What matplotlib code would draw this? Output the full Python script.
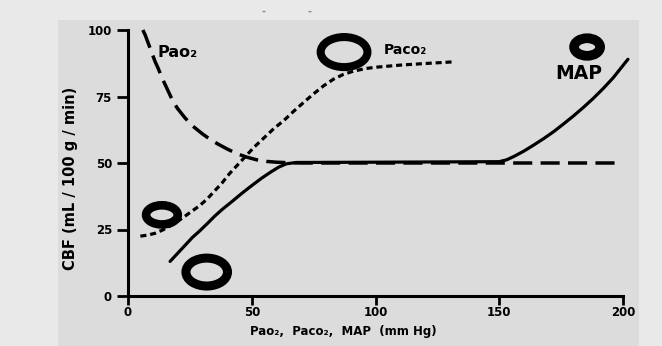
import matplotlib
matplotlib.use("Agg")
import matplotlib.pyplot as plt
from matplotlib.patches import Ellipse, Rectangle

# curves (x in mm Hg, y = CBF)
pao2_x = [6, 7, 8, 9, 10, 11, 12, 14, 16, 18, 20, 23, 26, 30, 33, 36, 40, 44, 48,
          52, 56, 60, 65, 70, 100, 150, 197]
pao2_y = [100, 98, 95.5, 93, 90.5, 88, 86, 81.5, 77.5, 73.5, 70.5, 67, 64, 61, 59,
          57.3, 55.3, 53.5, 52.2, 51.2, 50.6, 50.3, 50.1, 50, 50, 50, 50]

paco2_x = [5, 8, 11, 14, 17, 20, 23, 26, 29, 32, 35, 38, 41, 44, 47, 51, 55, 59, 63,
           67, 71, 75, 79, 83, 87, 91, 96, 100, 110, 120, 131]
paco2_y = [22.5, 22.9, 23.6, 24.8, 26.3, 28, 30, 32, 34, 36.5, 39.5, 42.5, 46, 49, 52,
           56, 59.5, 63, 66, 69.5, 72.8, 76, 79, 81.5, 83.3, 84.5, 85.5, 86, 86.8, 87.4, 88]

map_x = [17, 20, 23, 26, 29, 32, 35, 38, 42, 46, 50, 54, 58, 61, 64, 68, 100, 150,
         153, 156, 160, 164, 168, 172, 176, 180, 184, 188, 192, 196, 199, 202]
map_y = [13, 16, 19, 22, 24.5, 27.2, 30, 32.5, 35.5, 38.6, 41.5, 44.3, 46.8, 48.5,
         49.7, 50.2, 50.3, 50.5, 51.2, 52.5, 54.5, 56.8, 59.2, 61.8, 64.7, 67.7, 70.9,
         74.3, 78, 82, 85.5, 89]

x_ticks = [0, 50, 100, 150, 200]
y_ticks = [0, 25, 50, 75, 100]

# ring markers: centre x, centre y, width, height (data units), ring thickness (pt)
ring_x = [87.3, 185.5, 13.7, 31.8]
ring_y = [91.7, 93.6, 30.5, 9.0]
ring_w = [18.9, 10.5, 12.8, 16.8]
ring_h = [11.3, 6.6, 7.2, 10.5]
ring_lw = [5.8, 7.0, 6.2, 6.5]

labels = ["Pao\u2082", "Paco\u2082", "MAP"]
label_x = [12.1, 103.4, 172.6]
label_y = [91.7, 92.5, 83.8]
label_size = [11.5, 10, 13.5]

bold = {"family": "DejaVu Sans", "weight": "bold"}

fig = plt.figure(figsize=(6.62, 3.46), dpi=100)
fig.patch.set_facecolor("#e9e9e9")
panel = Rectangle((58 / 662, 0), (639 - 58) / 662, 1 - 20 / 346,
                  transform=fig.transFigure, facecolor="#dcdcdc",
                  edgecolor="none", zorder=-10)
fig.patches.append(panel)

# two faint scan specks above the panel
for sx in [263 / 662, 310 / 662]:
    fig.text(sx, 1 - 12 / 346, "-", fontsize=7, color="#8a8a8a",
             ha="center", va="center", fontweight="bold")

ax = fig.add_axes([128 / 662, 1 - 296 / 346, 495 / 662, 266 / 346])
ax.set_zorder(5)
ax.set_facecolor("none")
ax.set_xlim(0, 200)
ax.set_ylim(0, 100)

ax.plot(pao2_x, pao2_y, color="black", lw=2.5, dashes=(5.5, 2.4), clip_on=False)
ax.plot(paco2_x, paco2_y, color="black", lw=2.3, dashes=(1.9, 1.2), clip_on=False)
ax.plot(map_x, map_y, color="black", lw=2.3, solid_capstyle="round",
        solid_joinstyle="round", clip_on=False)

for cx, cy, w, h, lw in zip(ring_x, ring_y, ring_w, ring_h, ring_lw):
    ax.add_patch(Ellipse((cx, cy), w, h, facecolor="none", edgecolor="black",
                         lw=lw, clip_on=False))

for t, lx, ly, fs in zip(labels, label_x, label_y, label_size):
    ax.text(lx, ly, t, fontsize=fs, ha="left", va="center", **bold)

for side in ["top", "right"]:
    ax.spines[side].set_visible(False)
for side in ["left", "bottom"]:
    ax.spines[side].set_linewidth(2.2)

ax.set_xticks(x_ticks)
ax.set_yticks(y_ticks)
ax.tick_params(axis="y", length=8, width=2, pad=3.5)
ax.tick_params(axis="x", length=6.5, width=2, pad=1)
for lab in ax.get_xticklabels() + ax.get_yticklabels():
    lab.set_fontsize(8.5)
    lab.set_fontweight("bold")

ax.set_xlabel("Pao\u2082,  Paco\u2082,  MAP  (mm Hg)", fontsize=8.5, fontweight="bold",
              va="center")
ax.xaxis.set_label_coords(0.435, -0.132)
ax.set_ylabel("CBF (mL / 100 g / min)", fontsize=10.5, fontweight="bold",
              va="center")
ax.yaxis.set_label_coords(-0.117, 0.444)

fig.savefig("out.png", dpi=100, facecolor=fig.get_facecolor())
